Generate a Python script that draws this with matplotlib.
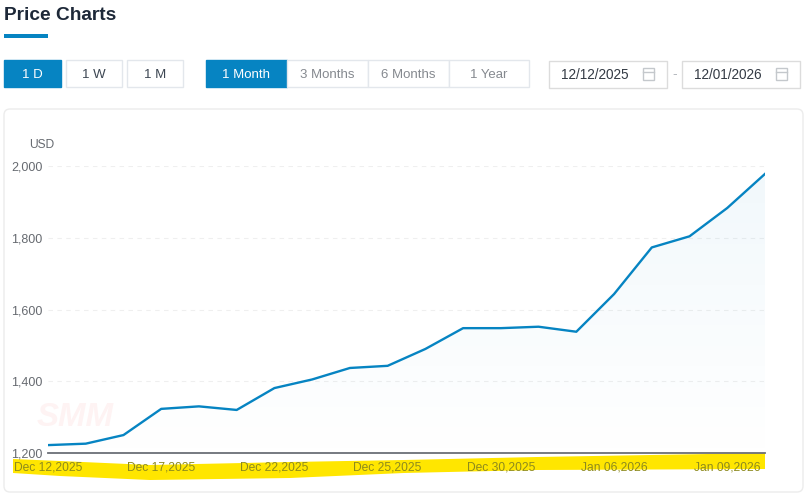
import numpy as np
import matplotlib
matplotlib.use("Agg")
import matplotlib.pyplot as plt
from matplotlib.patches import FancyBboxPatch, Rectangle, Polygon

plt.rcParams['font.family'] = ['Liberation Sans', 'DejaVu Sans']

# Data
dates = ["Dec 12,2025", "Dec 15,2025", "Dec 16,2025", "Dec 17,2025", "Dec 18,2025",
         "Dec 19,2025", "Dec 22,2025", "Dec 23,2025", "Dec 24,2025", "Dec 25,2025",
         "Dec 26,2025", "Dec 29,2025", "Dec 30,2025", "Dec 31,2025", "Jan 05,2026",
         "Jan 06,2026", "Jan 07,2026", "Jan 08,2026", "Jan 09,2026", "Jan 12,2026"]
prices = [1222, 1226, 1250, 1323, 1330, 1320, 1381, 1405, 1437, 1443,
          1490, 1548, 1548, 1552, 1538, 1643, 1773, 1804, 1883, 1978]
y_ticks = [1200, 1400, 1600, 1800, 2000]
freq_buttons = ["1 D", "1 W", "1 M"]
range_buttons = ["1 Month", "3 Months", "6 Months", "1 Year"]
date_from = "12/12/2025"
date_to = "12/01/2026"

W, H = 808, 495
BLUE = "#0684c2"
fig = plt.figure(figsize=(W / 100, H / 100), dpi=100)

# page furniture drawn in pixel coordinates
bg = fig.add_axes([0, 0, 1, 1], zorder=0)
bg.set_xlim(0, W)
bg.set_ylim(H, 0)
bg.axis("off")

def px(size):
    return size * 0.72

def button(x0, x1, y0, y1, label, active=False, color="#444c56", edge="#e3e7ec"):
    bg.add_patch(Rectangle((x0, y0), x1 - x0, y1 - y0, fc=BLUE if active else "white",
                           ec=BLUE if active else edge, lw=1))
    bg.text((x0 + x1) / 2, (y0 + y1) / 2 + 1, label, ha="center", va="center",
            fontsize=px(13.2), color="white" if active else color)

bg.text(4, 15, "Price Charts", fontsize=px(19.2), fontweight="bold", color="#1d2838",
        ha="left", va="center")
bg.add_patch(Rectangle((4, 34), 44, 4, fc=BLUE, ec="none"))

for (x0, x1), lab, on in zip([(4, 61), (66, 122), (127, 183)], freq_buttons, [True, False, False]):
    button(x0, x1, 60, 87, lab, on, color="#3c4652")
for (x0, x1), lab, on in zip([(206, 287), (287, 368), (368, 449), (449, 529)], range_buttons,
                             [True, False, False, False]):
    button(x0, x1, 60, 87, lab, on, color="#85898f")

# date boxes with small calendar icons
for x0, x1, lab in [(549, 667, date_from), (682, 800, date_to)]:
    bg.add_patch(Rectangle((x0, 61), x1 - x0, 27, fc="white", ec="#dcdcdc", lw=1))
    bg.text(x0 + 12, 75, lab, fontsize=px(13.6), color="#333a44", ha="left", va="center")
    bg.add_patch(Rectangle((x1 - 24, 68), 11, 12, fc="none", ec="#c4c8cc", lw=1))
    bg.plot([x1 - 24, x1 - 13], [71.5, 71.5], color="#c4c8cc", lw=1)
bg.text(674.5, 74, "-", fontsize=px(14), color="#b5b9be", ha="center", va="center")

# card
bg.add_patch(FancyBboxPatch((4, 109), 799, 383, boxstyle="round,pad=0,rounding_size=6",
                            fc="white", ec="#ececec", lw=1))

# watermark + yellow marker stroke
bg.text(75, 418, "SMM", fontsize=px(33), fontweight="bold", fontstyle="italic",
        color="#fef3f3", ha="center", va="center")
bg.add_patch(Polygon([(13, 459), (60, 461), (150, 465), (290, 462), (404, 460), (537, 457),
                      (765, 453), (765, 469), (537, 470), (404, 473), (290, 478), (150, 480),
                      (60, 476), (13, 473)], closed=True, fc="#ffe600", ec="none"))

# chart itself
ax = fig.add_axes([48 / W, 1 - 453 / H, (765 - 48) / W, (453 - 166) / H], zorder=2)
ax.patch.set_alpha(0)
x = np.arange(len(prices))
ax.set_axisbelow(True)

# soft gradient under the line
grad = np.linspace(0, 1, 256)
rgba = np.zeros((256, 1, 4))
rgba[:, :, :3] = matplotlib.colors.to_rgb(BLUE)
rgba[:, 0, 3] = 0.055 * (1 - grad) + 0.003
im = ax.imshow(rgba, extent=[0, len(prices) - 1, 1200, 2000], origin="upper",
               aspect="auto", zorder=1)
fill = ax.fill_between(x, 1200, prices, color="none")
im.set_clip_path(fill.get_paths()[0], transform=ax.transData)
ax.set_xlim(0, len(prices) - 1)
ax.set_ylim(1200, 2000)

ax.plot(x, prices, color=BLUE, lw=1.7, solid_joinstyle="round", zorder=3)

ax.set_yticks(y_ticks)
ax.set_yticklabels([f"{v:,}" for v in y_ticks])
ax.set_xticks(x[::3])
ax.set_xticklabels(dates[::3])
ax.tick_params(axis="y", length=0, pad=4, labelsize=px(12.5), labelcolor="#666a70")
ax.tick_params(axis="x", length=0, pad=6, labelsize=px(12), labelcolor="#8d8a1e")
ax.grid(axis="y", color="#efefef", lw=0.8, ls=(0, (4, 4)))
for s in ["top", "right", "left"]:
    ax.spines[s].set_visible(False)
ax.spines["bottom"].set_color("#6b6f76")
ax.spines["bottom"].set_linewidth(1.3)

bg.text(42, 145, "USD", fontsize=px(12), color="#666a70", ha="center", va="center")

fig.savefig("out.png", dpi=100)
